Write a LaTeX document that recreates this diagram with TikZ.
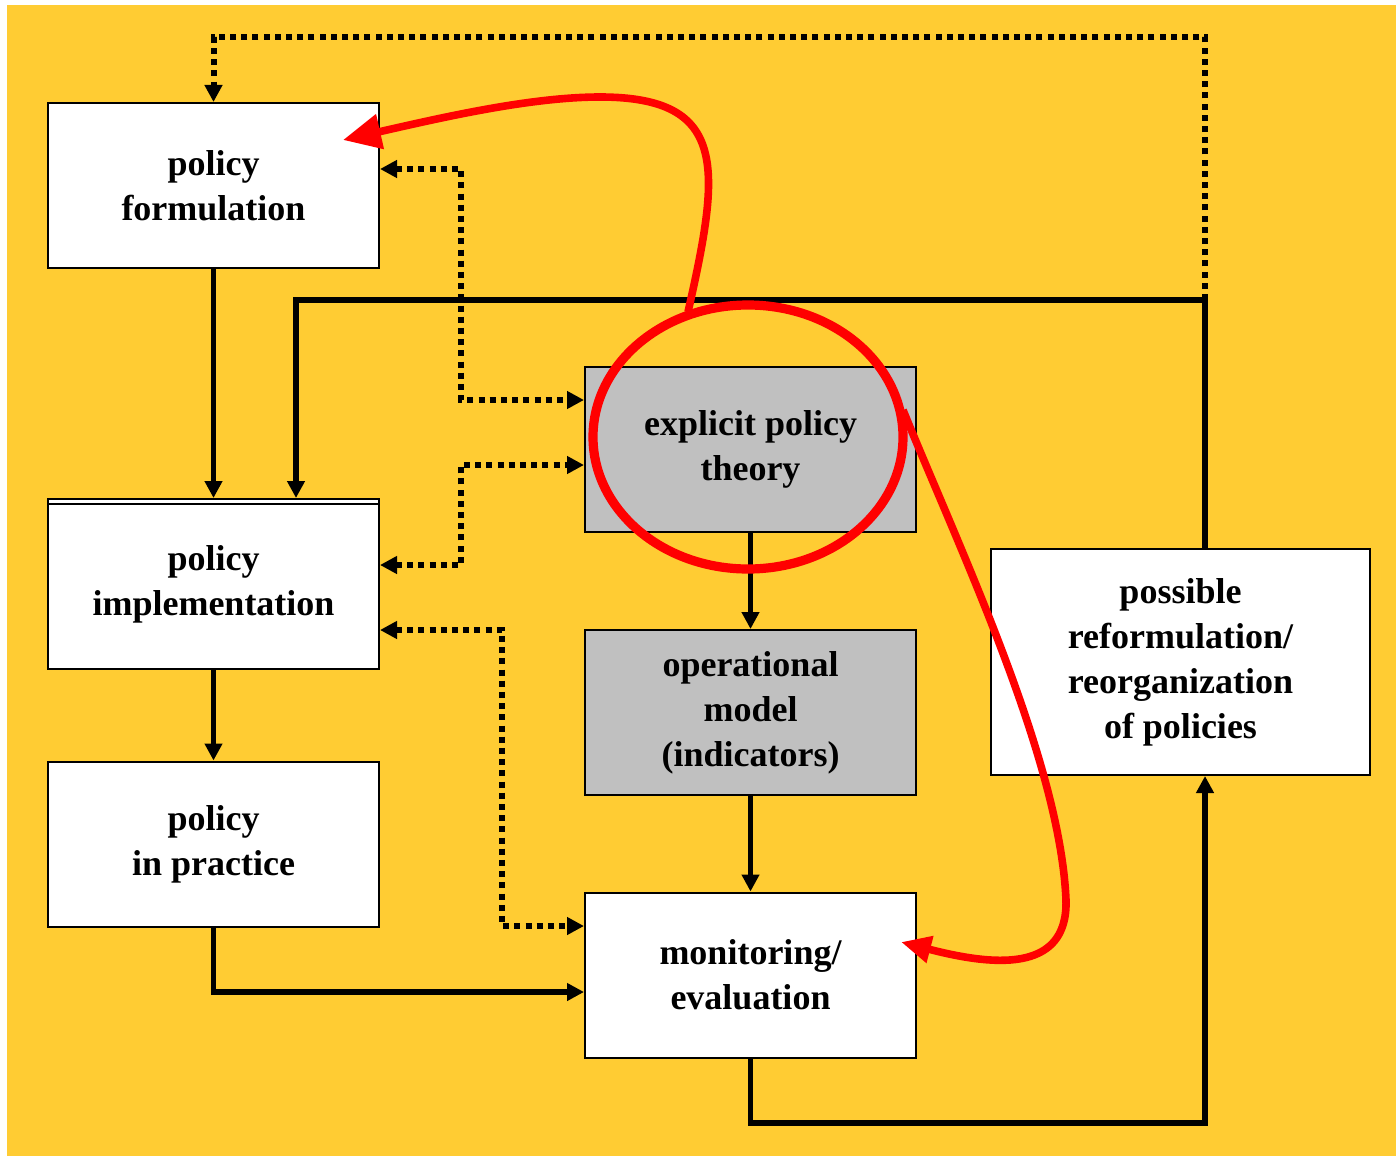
\documentclass[tikz,border=0pt]{standalone}
\usepackage{fontspec}
\setmainfont{Liberation Serif}
\usetikzlibrary{arrows.meta}
\definecolor{bgyellow}{RGB}{255,204,51}
\definecolor{boxgray}{RGB}{192,192,192}
\begin{document}
\begin{tikzpicture}[x=0.5pt,y=-0.5pt,
  >={Triangle[length=8.5pt,width=8.5pt]},
  box/.style={draw,line width=1pt,fill=white,minimum width=165.5pt,minimum height=82.5pt,
    align=center,font=\fontsize{18}{22.5}\selectfont\bfseries},
  graybox/.style={box,fill=boxgray},
  conn/.style={->,line width=2.6pt},
  dotline/.style={line width=3pt,dash pattern=on 3pt off 2.6pt},
  redline/.style={red,line width=3.8pt,-{Triangle[length=19pt,width=17pt]}}]
\useasboundingbox (0,0) rectangle (1396,1156);
\fill[bgyellow] (7,5) rectangle (1396,1156);
% boxes
\node[box] (form) at (213.5,185.5) {policy\\formulation};
\node[box,minimum height=85pt] (impl) at (213.5,584) {policy\\implementation};
\draw[line width=1pt] ([yshift=-3pt]impl.north west) -- ([yshift=-3pt]impl.north east);
\node[box] (prac) at (213.5,844) {policy\\in practice};
\node[graybox] (theo) at (750.5,449) {explicit policy\\theory};
\node[graybox] (oper) at (750.5,712.5) {operational\\model\\(indicators)};
\node[box] (moni) at (750.5,975) {monitoring/\\evaluation};
\node[box,minimum width=189.5pt,minimum height=113pt] (reform) at (1180.5,662) {possible\\reformulation/\\reorganization\\of policies};
% solid connectors
\coordinate (jr) at (1205,300);
\coordinate (jl) at (296,300);
\coordinate (br) at (1205,1123);
\draw[conn] (form) -- (impl);
\draw[conn] (impl) -- (prac);
\draw[conn] (reform.north -| jr) -- (jr) -- (jl) -- (jl |- impl.north);
\draw[conn] (prac.south) |- (moni.west |- 0,992);
\draw[conn] (theo) -- (oper);
\draw[conn] (oper) -- (moni);
\draw[conn] (moni.south) |- (br) -- (br |- reform.south);
% dotted connectors
\coordinate (tr) at (1205,37);
\draw[dotline,->] (jr) -- (tr) -| (form.north);
\draw[dotline,<->] (form.east |- 0,169) -| (461,400) -- (theo.west |- 0,400);
\draw[dotline,<->] (impl.east |- 0,565) -| (461,465) -- (theo.west |- 0,465);
\draw[dotline,<->] (impl.east |- 0,630) -| (502,926) -- (moni.west |- 0,926);
% red marks
\coordinate (ec) at (748,437);
\draw[red,line width=4.6pt] (ec) ellipse [x radius=77.5pt,y radius=66pt];
\draw[redline] (688,312) .. controls (720,170) and (730,97) .. (600,97)
  .. controls (530,97) and (440,118) .. (343,140);
\draw[redline,-{Triangle[length=15pt,width=13pt]}] (903,410) .. controls (960,550) and (1060,760) .. (1066,900)
  .. controls (1068,975) and (990,965) .. (901,942);
\end{tikzpicture}
\end{document}
